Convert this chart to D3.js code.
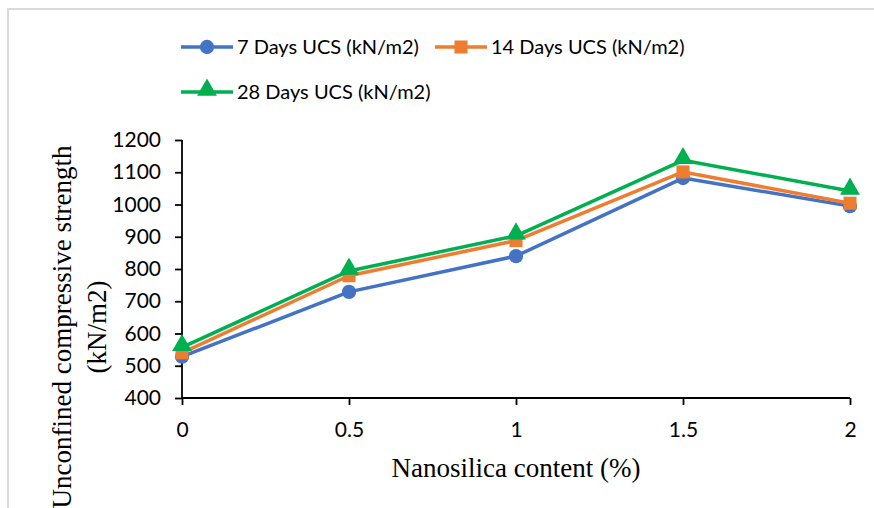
<!DOCTYPE html>
<html>
<head>
<meta charset="utf-8">
<script src="https://cdn.jsdelivr.net/npm/d3@7"></script>
<style>
html,body{margin:0;padding:0;background:#fff;}
svg{display:block;}
</style>
</head>
<body>
<script>
const categories = [0, 0.5, 1, 1.5, 2];
const xTickLabels = ["0", "0.5", "1", "1.5", "2"];
const yTicks = [400, 500, 600, 700, 800, 900, 1000, 1100, 1200];
const seriesNames = ["7 Days UCS (kN/m2)", "14 Days UCS (kN/m2)", "28 Days UCS (kN/m2)"];
const ucs7 = [528, 729, 840, 1082, 995];
const ucs14 = [540, 779, 888, 1101, 1004];
const ucs28 = [557, 794, 903, 1137, 1042];
const colors = ["#4472C4", "#ED7D31", "#00B050"];
const markers = ["circle", "square", "triangle"];

const W = 874, H = 508;
const svg = d3.select("body").append("svg").attr("width", W).attr("height", H);

// outer frame
svg.append("path").attr("d", `M8,${H} L8,9 L${W},9`).attr("fill", "none")
  .attr("stroke", "#d9d9d9").attr("stroke-width", 2);

const x = d3.scaleLinear().domain([0, 2]).range([182, 850]);
const y = d3.scaleLinear().domain([400, 1200]).range([398, 140]);

const tickFont = "Lato, 'Open Sans', sans-serif";
const serif = "'Liberation Serif', 'Times New Roman', serif";

// y axis
const yAxis = svg.append("g").attr("transform", `translate(${x(0)},0)`)
  .call(d3.axisLeft(y).tickValues(yTicks).tickSize(7).tickPadding(14).tickFormat(d3.format("d")));
// x axis
const xAxis = svg.append("g").attr("transform", `translate(0,${y(400)})`)
  .call(d3.axisBottom(x).tickValues(categories).tickSize(7).tickPadding(17)
    .tickFormat((d, i) => xTickLabels[i]));
[xAxis, yAxis].forEach(g => {
  g.select(".domain").attr("stroke", "#000").attr("stroke-width", 1.8);
  g.selectAll(".tick line").attr("stroke", "#000").attr("stroke-width", 1.8);
  g.selectAll("text").attr("font-family", tickFont).attr("font-size", 21).attr("fill", "#000");
});
yAxis.select(".domain").attr("d", `M0,${y(1200)}H0V${y(400)}`);
xAxis.select(".domain").attr("d", `M${x(0)},0H${x(2)}`);

const series = [ucs7, ucs14, ucs28];
const symTypes = { circle: d3.symbolCircle, square: d3.symbolSquare, triangle: d3.symbolTriangle };
const symSizes = { circle: 160, square: 170, triangle: 170 };

const line = d3.line().x((d, i) => x(categories[i])).y(d => y(d));

series.forEach((vals, si) => {
  svg.append("path").datum(vals).attr("d", line).attr("fill", "none")
    .attr("stroke", colors[si]).attr("stroke-width", 3.5).attr("stroke-linejoin", "round");
  svg.selectAll(null).data(vals).enter().append("path")
    .attr("d", d3.symbol().type(symTypes[markers[si]]).size(symSizes[markers[si]]))
    .attr("transform", (d, i) => `translate(${x(categories[i])},${y(d) + (markers[si] === "triangle" ? -2 : 0)})`)
    .attr("fill", colors[si]);
});

// legend
const legendPos = [[181, 47], [435, 47], [181, 92]];
seriesNames.forEach((name, si) => {
  const [lx, ly] = legendPos[si];
  const g = svg.append("g");
  g.append("line").attr("x1", lx).attr("x2", lx + 52).attr("y1", ly).attr("y2", ly)
    .attr("stroke", colors[si]).attr("stroke-width", 3.5);
  g.append("path").attr("d", d3.symbol().type(symTypes[markers[si]]).size(symSizes[markers[si]]))
    .attr("transform", `translate(${lx + 26},${ly + (markers[si] === "triangle" ? -2 : 0)})`).attr("fill", colors[si]);
  g.append("text").attr("x", lx + 56).attr("y", ly + 7).text(name)
    .attr("font-family", tickFont).attr("font-size", 20).attr("fill", "#000");
});

// axis titles
svg.append("text").attr("x", (x(0) + x(2)) / 2).attr("y", 477).attr("text-anchor", "middle")
  .attr("font-family", serif).attr("font-size", 27)
  .attr("fill", "#000").text("Nanosilica content (%)");

const yt = svg.append("text").attr("transform", "translate(0,327) rotate(-90)")
  .attr("text-anchor", "middle").attr("font-family", serif)
  .attr("font-size", 27).attr("fill", "#000");
yt.append("tspan").attr("x", 0).attr("y", 71).text("Unconfined compressive strength");
yt.append("tspan").attr("x", 0).attr("y", 106).text("(kN/m2)");
</script>
</body>
</html>
